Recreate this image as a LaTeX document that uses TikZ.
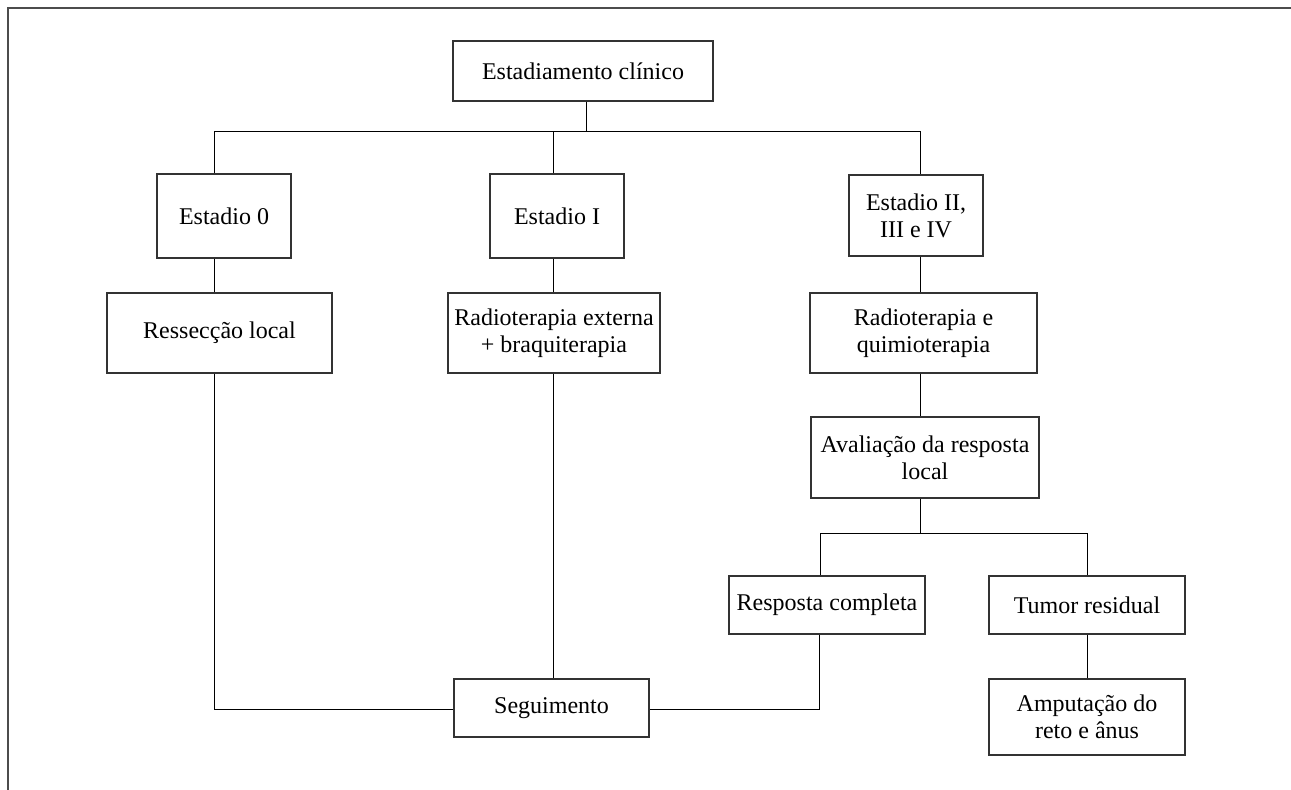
\documentclass[tikz,border=0pt]{standalone}
\usepackage{fontspec}
\setmainfont{Liberation Serif}
\begin{document}
\begin{tikzpicture}[x=1pt,y=-1pt,
  box/.style={draw=black!80, line width=1.1pt, align=center, inner sep=0pt,
    font=\fontsize{24}{27}\selectfont},
  link/.style={draw=black, line width=1pt},
  frame/.style={draw=black!70, line width=2pt}]
\useasboundingbox (0,0) rectangle (1291,790);
\draw[frame] (8,790) -- (8,8) -- (1291,8);
% nodes
\node[box, minimum width=260pt, minimum height=60pt] (top) at (583,71) {Estadiamento clínico};
\node[box, minimum width=134pt, minimum height=84pt] (e0) at (224,216) {Estadio 0};
\node[box, minimum width=134pt, minimum height=84pt] (e1) at (557,216) {Estadio I};
\node[box, minimum width=134pt, minimum height=81pt] (e2) at (916,215.5) {Estadio II,\\III e IV};
\node[box, minimum width=225pt, minimum height=80pt] (res) at (219.5,333) {Ressecção local};
\node[box, minimum width=212pt, minimum height=80pt] (rext) at (554,333) {Radioterapia externa\\+ braquiterapia};
\node[box, minimum width=227pt, minimum height=80pt] (rq) at (923.5,333) {Radioterapia e\\quimioterapia};
\node[box, minimum width=228pt, minimum height=81pt] (av) at (925,457.5) {Avaliação da resposta\\local};
\node[box, minimum width=196pt, minimum height=58pt] (rc) at (827,605) {Resposta completa};
\node[box, minimum width=196pt, minimum height=58pt] (tr) at (1087,605) {Tumor residual};
\node[box, minimum width=196pt, minimum height=76pt] (amp) at (1087,717) {Amputação do\\reto e ânus};
\node[box, minimum width=195pt, minimum height=58pt] (seg) at (551.5,708) {Seguimento};
% junction coordinates
\coordinate (j0) at (214,131);
\coordinate (jt) at (586,131);
\coordinate (j1) at (553,131);
\coordinate (j2) at (920,131);
\coordinate (k1) at (820,533);
\coordinate (k2) at (1087,533);
\coordinate (s0) at (214,709);
\coordinate (s2) at (819,709);
% connectors
\draw[link] (top.south -| jt) -- (jt);
\draw[link] (j0) -- (j2);
\draw[link] (j0) -- (e0.north -| j0);
\draw[link] (j1) -- (e1.north -| j1);
\draw[link] (j2) -- (e2.north -| j2);
\draw[link] (e0.south -| j0) -- (res.north -| j0);
\draw[link] (e1.south -| j1) -- (rext.north -| j1);
\draw[link] (e2.south -| j2) -- (rq.north -| j2);
\draw[link] (rq.south -| j2) -- (av.north -| j2);
\draw[link] (av.south -| j2) -- (j2 |- k1);
\draw[link] (k1) -- (k2);
\draw[link] (k1) -- (rc.north -| k1);
\draw[link] (k2) -- (tr.north -| k2);
\draw[link] (tr.south -| k2) -- (amp.north -| k2);
\draw[link] (res.south -| s0) -- (s0) -- (seg.west |- s0);
\draw[link] (rext.south -| j1) -- (seg.north -| j1);
\draw[link] (rc.south -| s2) -- (s2) -- (seg.east |- s2);
\end{tikzpicture}
\end{document}
